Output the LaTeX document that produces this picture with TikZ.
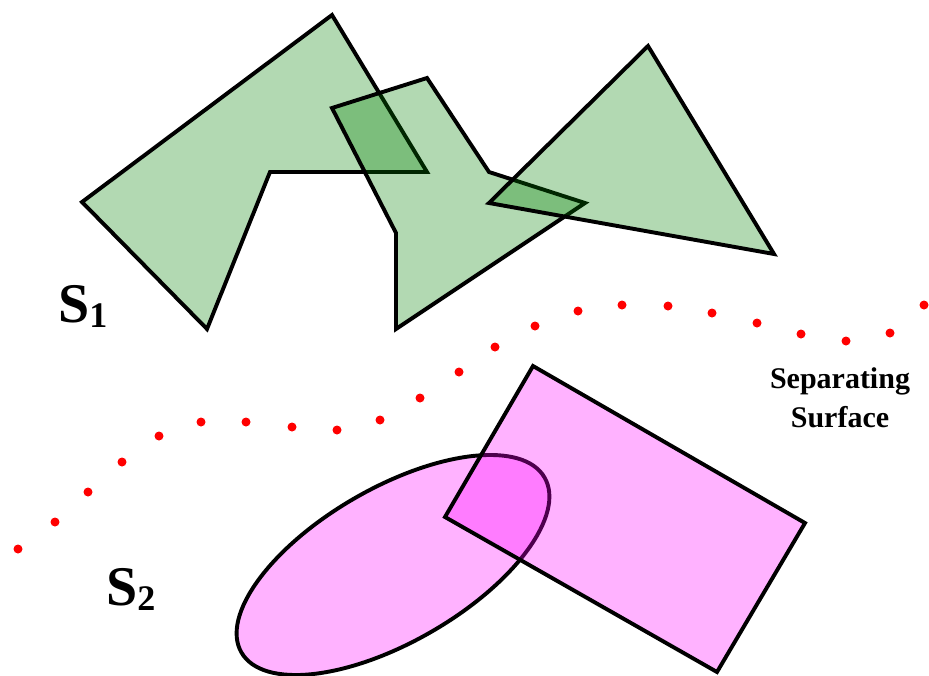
\documentclass[tikz,border=0pt]{standalone}
\usepackage{fontspec}
\setmainfont{Liberation Serif}
\usepackage{tikz}
\usetikzlibrary{positioning}

\definecolor{setgreen}{RGB}{0,128,0}
\definecolor{setpink}{RGB}{255,0,255}
\definecolor{sepred}{RGB}{255,0,0}

\tikzset{
  shapeA/.style={draw=black, line width=3.9pt, line join=miter, fill=setgreen, fill opacity=0.3},
  shapeB/.style={draw=black, line width=3.9pt, line join=miter, fill=setpink, fill opacity=0.3},
  setlabel/.style={inner sep=0pt, anchor=base west, font=\fontsize{56}{56}\selectfont\bfseries},
}
\newcommand{\setsub}[1]{\raisebox{-5pt}{\fontsize{36}{36}\selectfont #1}}

\begin{document}
\begin{tikzpicture}[x=1pt, y=-1pt]
    \useasboundingbox (0,0) rectangle (929,675);
    % ---------------- set S1: three green polygons
    \draw[shapeA] (82,202) -- (332,15) -- (427,172) -- (270,172) -- (207,329) -- cycle;
    \draw[shapeA] (332,108) -- (427,78) -- (489,172) -- (585,203) -- (396,329) -- (396,233) -- cycle;
    \draw[shapeA] (489,203) -- (648,46) -- (774,254) -- cycle;
    % ---------------- set S2: ellipse and rectangle
    \draw[shapeB, rotate around={30:(393,565)}] (393,565) ellipse [x radius=175pt, y radius=77pt];
    \draw[shapeB] (533,366) -- (805,523) -- (717,672) -- (445,517) -- cycle;
    % ---------------- separating surface (dots)
    \foreach \p in {(18,549),(55,522),(88,492),(122,462),(159,436),(201,422),(246,422),(292,427),
                    (337,430),(380,420),(420,398),(459,372),(495,347),(535,326),(578,311),(622,305),
                    (668,306),(712,313),(757,323),(801,334),(846,341),(890,333),(924,305)}
      \fill[sepred] \p circle (4.5pt);
    % ---------------- labels
    \node[setlabel] (s1label) at (58,322) {S\setsub{1}};
    \node[setlabel] (s2label) at (106,605) {S\setsub{2}};
    \node[inner sep=0pt, align=center, font=\fontsize{30}{39}\selectfont\bfseries] (surflabel) at (840,398) {Separating\\Surface};
\end{tikzpicture}
\end{document}
